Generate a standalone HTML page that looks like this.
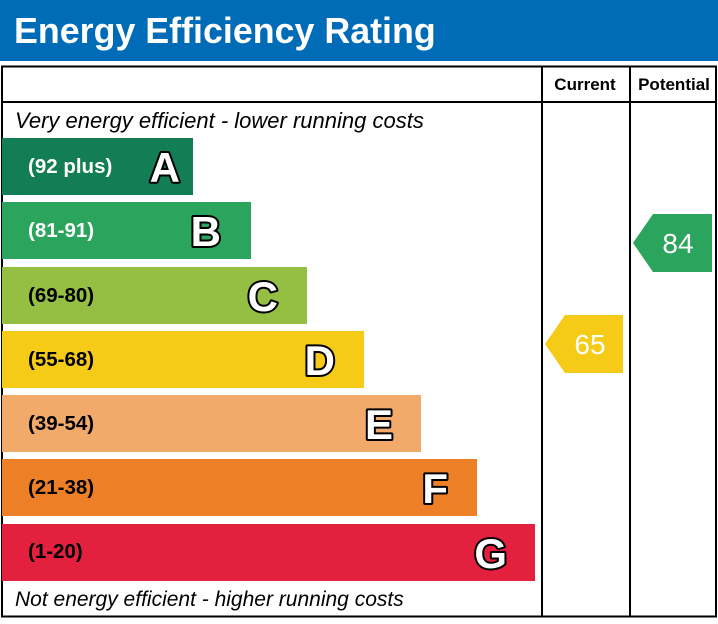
<!DOCTYPE html>
<html><head><style>
body{margin:0;background:#fff;}
</style></head><body>
<svg width="718" height="619" xmlns="http://www.w3.org/2000/svg" font-family="Liberation Sans, Arial, sans-serif">
<rect x="0" y="0" width="718" height="61" fill="#006bb6"/>
<text x="14" y="43" font-size="35.8" font-weight="bold" fill="#fff">Energy Efficiency Rating</text>
<rect x="2" y="66.5" width="714" height="550" fill="none" stroke="#000" stroke-width="2"/>
<line x1="2" y1="102" x2="716" y2="102" stroke="#000" stroke-width="2"/>
<line x1="542" y1="66" x2="542" y2="617" stroke="#000" stroke-width="2"/>
<line x1="630" y1="66" x2="630" y2="617" stroke="#000" stroke-width="2"/>
<text x="585" y="90" font-size="17" font-weight="bold" text-anchor="middle">Current</text>
<text x="674" y="90" font-size="17" font-weight="bold" text-anchor="middle">Potential</text>
<text x="15" y="128" font-size="22" font-style="italic">Very energy efficient - lower running costs</text>
<text x="15" y="606" font-size="21" font-style="italic">Not energy efficient - higher running costs</text>
<g font-weight="bold">
<rect x="2" y="138" width="191" height="57" fill="#137e56"/>
<rect x="2" y="202" width="249" height="57" fill="#2ba55d"/>
<rect x="2" y="267" width="305" height="57" fill="#94bf43"/>
<rect x="2" y="331" width="362" height="57" fill="#f6cb18"/>
<rect x="2" y="395" width="419" height="57" fill="#f2aa6b"/>
<rect x="2" y="459" width="475" height="57" fill="#ed8026"/>
<rect x="2" y="524" width="533" height="57" fill="#e3203d"/>
<g font-size="20.5">
<text x="28" y="173" fill="#fff">(92 plus)</text>
<text x="28" y="237" fill="#fff">(81-91)</text>
<text x="28" y="302" fill="#000">(69-80)</text>
<text x="28" y="366" fill="#000">(55-68)</text>
<text x="28" y="430" fill="#000">(39-54)</text>
<text x="28" y="494" fill="#000">(21-38)</text>
<text x="28" y="558" fill="#000">(1-20)</text>
</g>
<g font-size="42" fill="#fff" stroke="#000" stroke-width="4" paint-order="stroke" text-anchor="end" stroke-linejoin="round">
<text x="180" y="182">A</text>
<text x="221" y="246">B</text>
<text x="278" y="311">C</text>
<text x="335" y="375">D</text>
<text x="393" y="439">E</text>
<text x="448" y="503">F</text>
<text x="507" y="568">G</text>
</g>
</g>
<polygon points="633,243 653,214 712,214 712,272 653,272" fill="#2ba55d"/>
<text x="678" y="253" font-size="28" fill="#fff" text-anchor="middle">84</text>
<polygon points="545,344 565,315 623,315 623,373 565,373" fill="#f6cb18"/>
<text x="590" y="354" font-size="28" fill="#fff" text-anchor="middle">65</text>
</svg>
</body></html>
